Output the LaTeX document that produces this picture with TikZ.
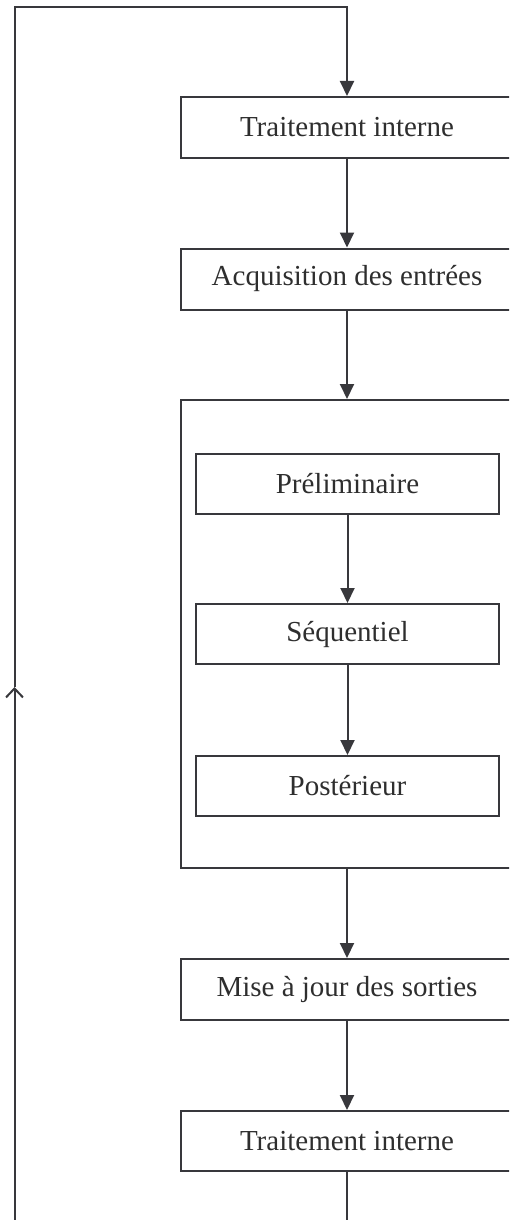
\documentclass[tikz,border=0pt]{standalone}
\usepackage{fontspec}
\setmainfont{Liberation Serif}
\usetikzlibrary{arrows.meta}
\definecolor{inkc}{HTML}{38383C}
\definecolor{textc}{HTML}{2E2E2E}
\begin{document}
\begin{tikzpicture}[x=1pt,y=-1pt,
  ink/.style={draw=inkc, line width=2pt},
  box/.style={ink, rectangle, minimum width=332pt, minimum height=61pt, inner sep=0pt,
    font=\fontsize{29}{34}\selectfont, text=textc},
  inbox/.style={box, minimum width=303pt, minimum height=60pt},
  flow/.style={ink, -{Triangle[length=15pt,width=14pt]}},
  back/.style={ink, -{Straight Barb[length=9pt,width=17pt]}},
]
\useasboundingbox (0,0) rectangle (509,1220);
\clip (0,0) rectangle (509,1220);
\node[box] (t1) at (347,127.5) {Traitement interne};
\node[box] (acq) at (347,279) {Acquisition des entrées};
\node[box, minimum height=468pt] (proc) at (347,634) {};
\node[inbox] (pre) at (347.5,483.5) {Préliminaire};
\node[inbox] (seq) at (347.5,634) {Séquentiel};
\node[inbox] (post) at (347.5,786) {Postérieur};
\node[box, minimum height=61pt] (maj) at (347,989.5) {Mise à jour des sorties};
\node[box, minimum height=60pt] (t2) at (347,1141) {Traitement interne};
\coordinate (rb) at (347,1240);
\coordinate (lb) at (14.5,1240);
\coordinate (mid) at (14.5,687);
\coordinate (tl) at (14.5,7);
\draw[flow] (t1) -- (acq);
\draw[flow] (acq) -- (proc);
\draw[flow] (pre) -- (seq);
\draw[flow] (seq) -- (post);
\draw[flow] (proc) -- (maj);
\draw[flow] (maj) -- (t2);
\draw[ink] (t2.south) -- (rb) -- (lb);
\draw[back] (lb) -- (mid);
\draw[flow] (mid) -- (tl) -| (t1.north);
\end{tikzpicture}
\end{document}
